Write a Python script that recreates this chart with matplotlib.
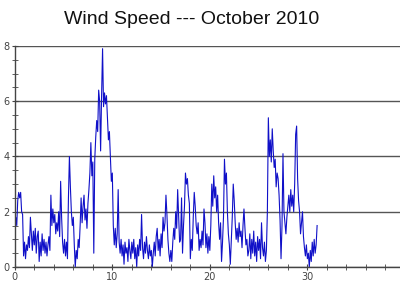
import numpy as np
import matplotlib
matplotlib.use("Agg")
import matplotlib.pyplot as plt
from matplotlib.ticker import MultipleLocator

# wind speed readings, one every 0.1 day
week1 = [1.0, 1.8, 1.5, 2.4, 2.7, 2.5, 2.7, 2.0, 1.9, 0.4,
         0.9, 0.3, 0.8, 0.6, 1.1, 0.7, 1.8, 1.2, 0.6, 1.3,
         0.8, 1.4, 0.5, 1.1, 1.3, 0.2, 0.9, 0.4, 1.2, 0.6,
         1.0, 0.5, 0.9, 0.4, 0.8, 1.1, 0.6, 2.6, 1.5, 2.1,
         1.6, 1.9, 1.2, 1.6, 1.3, 2.0, 1.1, 3.1, 1.8, 0.9,
         0.5, 1.0, 0.4, 0.9, 0.3, 2.5, 4.0, 2.9, 2.0, 1.5,
         1.8, 0.8, 0.0, 0.6, 0.3, 1.0, 0.7, 1.5, 2.5, 1.6]
week2 = [2.2, 2.6, 1.7, 2.1, 1.4, 2.3, 2.8, 3.4, 4.5, 3.3,
         3.8, 0.5, 3.9, 4.7, 5.3, 4.9, 6.4, 6.0, 4.2, 6.2,
         7.9, 5.8, 6.3, 5.9, 6.2, 5.4, 4.6, 4.9, 4.0, 3.1,
         3.4, 1.5, 0.8, 1.4, 0.7, 1.2, 2.8, 0.9, 0.5, 1.0,
         0.4, 0.8, 0.1, 0.9, 0.5, 0.7, 0.2, 1.0, 0.6, 0.3,
         0.9, 0.5, 1.0, 0.3, 0.7, 0.0, 0.8, 0.4, 1.0, 0.6,
         1.9, 0.7, 0.3, 0.9, 0.5, 1.1, 0.6, 0.3, 0.8, 0.4]
week3 = [0.6, 0.0, 0.5, 0.9, 0.4, 1.1, 1.4, 0.6, 1.0, 0.4,
         1.2, 0.7, 1.8, 1.3, 1.6, 2.6, 1.9, 1.0, 0.5, 0.2,
         0.6, 0.2, 0.9, 1.4, 1.0, 2.0, 1.4, 2.8, 1.8, 0.9,
         1.0, 2.5, 0.5, 1.5, 2.2, 3.4, 3.0, 3.2, 2.6, 2.3,
         0.3, 1.0, 0.6, 1.8, 2.7, 2.2, 1.5, 1.2, 1.6, 0.6,
         1.0, 0.7, 1.3, 0.8, 2.1, 1.6, 0.7, 1.2, 0.5, 1.1,
         0.6, 1.5, 3.0, 2.2, 3.3, 2.5, 2.9, 2.0, 2.6, 1.6]
week4 = [1.0, 1.6, 0.2, 0.9, 1.8, 3.9, 3.0, 3.4, 2.0, 1.2,
         0.8, 0.1, 1.0, 1.8, 3.0, 2.4, 1.6, 1.0, 1.4, 0.9,
         1.6, 1.1, 1.3, 0.7, 1.5, 2.1, 1.4, 0.8, 1.0, 0.4,
         0.6, 1.2, 0.3, 1.0, 0.5, 1.3, 0.4, 0.9, 0.2, 1.1,
         0.6, 1.0, 0.3, 1.6, 0.7, 0.4, 0.9, 0.2, 0.6, 2.0,
         5.4, 4.0, 4.6, 3.8, 5.0, 4.2, 3.6, 3.9, 2.9, 3.4,
         3.2, 2.6, 1.7, 0.3, 1.5, 4.1, 2.0, 1.6, 1.2, 1.8]
week5 = [2.2, 2.6, 2.0, 2.8, 2.2, 2.6, 2.0, 3.0, 4.8, 5.1,
         3.2, 2.4, 2.0, 1.2, 1.6, 2.0, 1.1, 0.7, 0.4, 0.8,
         0.3, 0.5, 0.0, 0.6, 0.2, 0.9, 0.4, 1.0, 0.5, 0.8,
         1.5]

sample_step = 0.1  # days between readings
y_ticks = [0, 2, 4, 6, 8]
x_ticks = [0, 10, 20, 30]


def main():
    speed = np.array(week1 + week2 + week3 + week4 + week5)
    days = np.arange(len(speed)) * sample_step

    fig = plt.figure(figsize=(4, 3), dpi=100)
    ax = fig.add_axes([0.037, 0.11, 0.963, 0.737])

    ax.plot(days, speed, color="#1010c8", linewidth=0.8)

    ax.set_xlim(0, 39.5)
    ax.set_ylim(0, 8)
    ax.set_xticks(x_ticks)
    ax.set_yticks(y_ticks)
    ax.xaxis.set_minor_locator(MultipleLocator(2))
    ax.yaxis.set_minor_locator(MultipleLocator(0.5))

    # horizontal grid only
    ax.grid(True, axis="y", color="#555555", linewidth=1.0)
    ax.set_axisbelow(True)

    for side in ["top", "right"]:
        ax.spines[side].set_visible(False)
    for side in ["left", "bottom"]:
        ax.spines[side].set_color("#444444")
        ax.spines[side].set_linewidth(1.0)

    ax.tick_params(which="both", direction="inout", colors="#444444",
                   labelsize=7, labelcolor="#444444")
    ax.tick_params(which="major", length=5, pad=1)
    ax.tick_params(which="minor", length=4)

    fig.suptitle("Wind Speed --- October 2010", x=0.48, y=0.965,
                 fontsize=14, family="Liberation Sans", color="#111111")

    fig.savefig("out.png", dpi=100)


if __name__ == "__main__":
    main()
